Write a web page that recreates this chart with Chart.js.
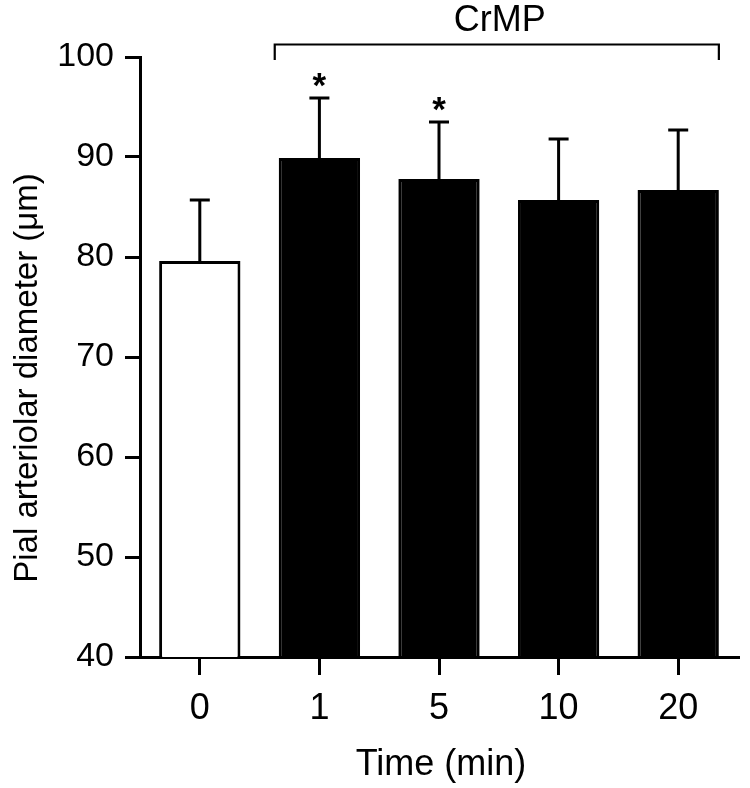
<!DOCTYPE html>
<html><head><meta charset="utf-8">
<script src="https://cdn.jsdelivr.net/npm/chart.js@4"></script>
<style>html,body{margin:0;padding:0;background:#fff}#wrap{width:750px;height:788px;position:relative}</style>
</head><body><div id="wrap"><canvas id="c" width="750" height="788"></canvas></div>
<script>
const categories = ['0', '1', '5', '10', '20'];
const meanDiameter = [79.6, 89.9, 87.8, 85.7, 86.7];
const semDiameter = [6.1, 6.0, 5.7, 6.1, 6.0];
const significant = [false, true, true, false, false];
const barColors = ['#ffffff', '#000000', '#000000', '#000000', '#000000'];
const yMin = 40, yMax = 100, yStep = 10;
const xTitle = 'Time (min)';
const yTitle = 'Pial arteriolar diameter (\u03bcm)';
const groupLabel = 'CrMP';
const groupStart = 1, groupEnd = 4;

const FONT = '"Liberation Sans", Arial, Helvetica, sans-serif';

const annot = {
  id: 'annot',
  afterDatasetsDraw(chart) {
    const ctx = chart.ctx, y = chart.scales.y, meta = chart.getDatasetMeta(0);
    ctx.save();
    ctx.strokeStyle = '#000'; ctx.fillStyle = '#000'; ctx.lineWidth = 3; ctx.lineCap = 'butt';
    meta.data.forEach((bar, i) => {
      const top = y.getPixelForValue(meanDiameter[i]);
      const et = y.getPixelForValue(meanDiameter[i] + semDiameter[i]);
      ctx.beginPath();
      ctx.moveTo(bar.x, top); ctx.lineTo(bar.x, et);
      ctx.moveTo(bar.x - 10, et); ctx.lineTo(bar.x + 10, et);
      ctx.stroke();
      if (significant[i]) {
        ctx.font = 'bold 35px ' + FONT; ctx.textAlign = 'center'; ctx.textBaseline = 'alphabetic';
        ctx.fillText('*', bar.x, et - 1);
      }
    });
    const b1 = meta.data[groupStart], b2 = meta.data[groupEnd];
    const xl = b1.x - b1.width / 2 - 4, xr = b2.x + b2.width / 2;
    ctx.lineWidth = 2.2;
    ctx.beginPath();
    ctx.moveTo(xl, 60); ctx.lineTo(xl, 44.5); ctx.lineTo(xr, 44.5); ctx.lineTo(xr, 60);
    ctx.stroke();
    ctx.font = '36px ' + FONT; ctx.textAlign = 'center'; ctx.textBaseline = 'alphabetic';
    ctx.fillText(groupLabel, (xl + xr) / 2 + 3, 31);
    const ca = chart.chartArea;
    ctx.fillText(xTitle, (ca.left + ca.right) / 2 + 2, 775);
    ctx.save();
    ctx.translate(36.5, 378);
    ctx.rotate(-Math.PI / 2);
    ctx.font = '33px ' + FONT;
    ctx.fillText(yTitle, 0, 0);
    ctx.restore();
    ctx.restore();
  }
};

new Chart(document.getElementById('c'), {
  type: 'bar',
  data: {
    labels: categories,
    datasets: [{
      data: meanDiameter,
      backgroundColor: barColors,
      borderColor: '#000',
      borderWidth: 3,
      borderSkipped: 'start',
      categoryPercentage: 1,
      barPercentage: 0.68
    }]
  },
  options: {
    responsive: false,
    animation: false,
    devicePixelRatio: 1,
    layout: { padding: { top: 57, right: 12, left: 0, bottom: 0 } },
    plugins: { legend: { display: false }, tooltip: { enabled: false } },
    scales: {
      x: {
        offset: true,
        grid: { offset: false, drawOnChartArea: false, drawTicks: true, tickLength: 18, color: '#000', lineWidth: 3 },
        border: { display: true, color: '#000', width: 3 },
        ticks: { color: '#000', font: { family: FONT, size: 36 }, padding: 12, maxRotation: 0 },
        afterFit(s) { s.height = 131; }
      },
      y: {
        min: yMin, max: yMax,
        grid: { drawOnChartArea: false, drawTicks: true, tickLength: 15, color: '#000', lineWidth: 3 },
        border: { display: true, color: '#000', width: 3 },
        ticks: { stepSize: yStep, color: '#000', font: { family: FONT, size: 34 }, padding: 11 },
        afterFit(s) { s.width = 140; }
      }
    }
  },
  plugins: [annot]
});
</script>
</body></html>
